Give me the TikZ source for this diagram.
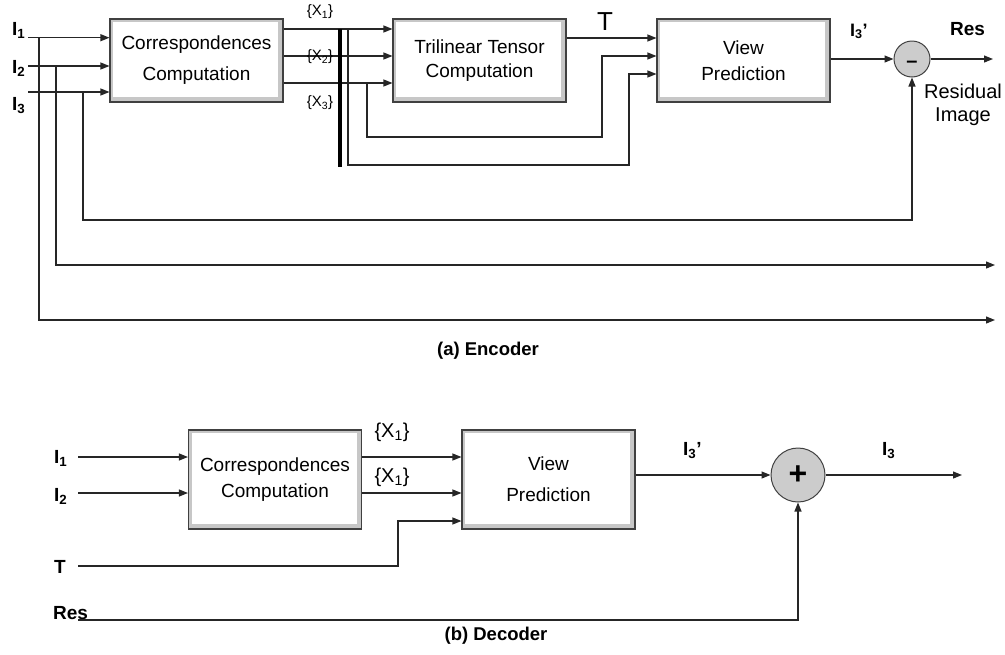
\documentclass[tikz,border=0pt]{standalone}
\usepackage{fontspec}
\setmainfont{Liberation Sans}
\usetikzlibrary{arrows.meta}
\tikzset{
  wire/.style={draw=black!85, line width=1.2pt},
  arr/.style={wire, -{Triangle[length=9pt,width=7pt]}},
  blk/.style={draw=black!75, line width=1.1pt, fill=black!22, inner sep=2pt,
    minimum width=173pt, align=center,
    path picture={\fill[white] ([xshift=3pt,yshift=-3pt]path picture bounding box.north west)
      rectangle ([xshift=-5pt,yshift=5pt]path picture bounding box.south east);}},
  sumnode/.style={circle, draw=black!75, line width=1pt, fill=black!20, inner sep=0pt},
  ilbl/.style={font=\bfseries\fontsize{19}{19}\selectfont, inner sep=0pt, anchor=base west},
  xlbl/.style={inner sep=0pt},
  captxt/.style={font=\bfseries\fontsize{18.5}{20}\selectfont, inner sep=0pt, anchor=base},
}
\begin{document}
\begin{tikzpicture}[x=1pt,y=-1pt]
\useasboundingbox (0,0) rectangle (1005,654);

%================ ENCODER ================
\node[blk, minimum height=83pt, font=\fontsize{19}{31}\selectfont] (corrA) at (196.5,60.5) {Correspondences\\Computation};
\node[blk, minimum height=83pt, font=\fontsize{19}{24}\selectfont] (tri) at (479.5,60.5) {Trilinear Tensor\\Computation};
\node[blk, minimum height=83pt, font=\fontsize{19}{26}\selectfont] (vpA) at (743.5,60.5) {View\\Prediction};
\node[sumnode, minimum size=36pt, text height=0pt, text depth=0pt, font=\bfseries\fontsize{20}{20}\selectfont] (minus) at (912,59) {\raisebox{-8pt}[0pt][0pt]{--}};

% input labels
\node[ilbl] (lI1) at (12,35) {I\textsubscript{1}};
\node[ilbl] (lI2) at (12,73) {I\textsubscript{2}};
\node[ilbl] (lI3) at (12,110) {I\textsubscript{3}};

% level coordinates
\coordinate (a1) at (28,37.7);
\coordinate (a2) at (28,66);
\coordinate (a3) at (28,92);
\coordinate (j1) at (39,37.7);
\coordinate (j2) at (56,66);
\coordinate (j3) at (83,92);
\coordinate (o1) at (995,320);
\coordinate (o2) at (995,265);
\coordinate (fb) at (912,220);
\coordinate (y29) at (0,29);
\coordinate (y56) at (0,56);
\coordinate (y83) at (0,83);
\coordinate (y38) at (0,38);
\coordinate (y74) at (0,74);
\coordinate (barT) at (340,29);
\coordinate (barB) at (340,167);
\coordinate (b1) at (348,29);
\coordinate (c1) at (629,165);
\coordinate (b3) at (367,83);
\coordinate (c3) at (602,137);
\coordinate (resOut) at (993,59);

% inputs
\draw[arr] (a1) -- (corrA.west |- a1);
\draw[arr] (a2) -- (corrA.west |- a2);
\draw[arr] (a3) -- (corrA.west |- a3);
\draw[arr] (j1) |- (o1);
\draw[arr] (j2) |- (o2);
\draw[arr] (j3) |- (fb) -- (minus.south);

% correspondences outputs
\draw[arr] (corrA.east |- y29) -- (tri.west |- y29);
\draw[arr] (corrA.east |- y56) -- (tri.west |- y56);
\draw[arr] (corrA.east |- y83) -- (tri.west |- y83);
\draw[line width=3.2pt] (barT) -- (barB);
\draw[arr] (b1) |- (c1) |- (vpA.west |- y74);
\draw[arr] (b3) |- (c3) |- (vpA.west |- y56);

\node[xlbl, font=\fontsize{15}{15}\selectfont] (x1) at (320,12) {\{X\textsubscript{1}\}};
\node[xlbl, font=\fontsize{15}{15}\selectfont] (x2) at (320,57) {\{X\textsubscript{2}\}};
\node[xlbl, font=\fontsize{15}{15}\selectfont] (x3) at (320,103) {\{X\textsubscript{3}\}};

% tensor
\draw[arr] (tri.east |- y38) -- (vpA.west |- y38);
\node[xlbl, font=\fontsize{26}{26}\selectfont] (tl) at (605,22) {T};

% view prediction to residual
\draw[arr] (vpA.east |- minus) -- (minus.west);
\draw[arr] (minus.east) -- (resOut);
\node[ilbl, font=\bfseries\fontsize{18}{18}\selectfont] (lI3p) at (850,36) {I\textsubscript{3}’};
\node[ilbl, font=\bfseries\fontsize{19}{19}\selectfont] (lres) at (950,35) {Res};
\node[xlbl, align=center, font=\fontsize{20}{22.5}\selectfont, anchor=north] (resimg) at (963,84) {Residual\\Image};

\node[captxt] (capA) at (488,355) {(a) Encoder};

%================ DECODER ================
\node[blk, minimum height=99pt, font=\fontsize{19}{26}\selectfont] (corrB) at (275,479.5) {Correspondences\\Computation};
\node[blk, minimum height=99pt, font=\fontsize{19}{31}\selectfont] (vpB) at (548.5,479.5) {View\\Prediction};
\node[sumnode, minimum size=54pt, font=\bfseries\fontsize{32}{32}\selectfont] (plus) at (798,475) {+};

\node[ilbl] (dI1) at (54,463) {I\textsubscript{1}};
\node[ilbl] (dI2) at (54,501) {I\textsubscript{2}};
\node[ilbl] (dT) at (54,573) {T};
\node[ilbl] (dRes) at (53,619) {Res};

\coordinate (d1) at (78,457);
\coordinate (d2) at (78,493);
\coordinate (dt) at (78,566);
\coordinate (dtc) at (398,521);
\coordinate (dr) at (78,620);
\coordinate (drc) at (798,620);
\coordinate (dout) at (962,475);

\draw[arr] (d1) -- (corrB.west |- d1);
\draw[arr] (d2) -- (corrB.west |- d2);
\draw[arr] (corrB.east |- d1) -- (vpB.west |- d1);
\draw[arr] (corrB.east |- d2) -- (vpB.west |- d2);
\draw[arr] (dt) -| (dtc) -- (vpB.west |- dtc);
\draw[arr] (dr) -- (drc) -- (plus.south);
\draw[arr] (vpB.east |- plus) -- (plus.west);
\draw[arr] (plus.east) -- (dout);

\node[xlbl, font=\fontsize{20}{20}\selectfont] (dx1) at (392,432) {\{X\textsubscript{1}\}};
\node[xlbl, font=\fontsize{20}{20}\selectfont] (dx2) at (392,477) {\{X\textsubscript{1}\}};
\node[ilbl] (dI3p) at (683,455) {I\textsubscript{3}’};
\node[ilbl] (dI3) at (882,455) {I\textsubscript{3}};

\node[captxt] (capB) at (496,640) {(b) Decoder};
\end{tikzpicture}
\end{document}
